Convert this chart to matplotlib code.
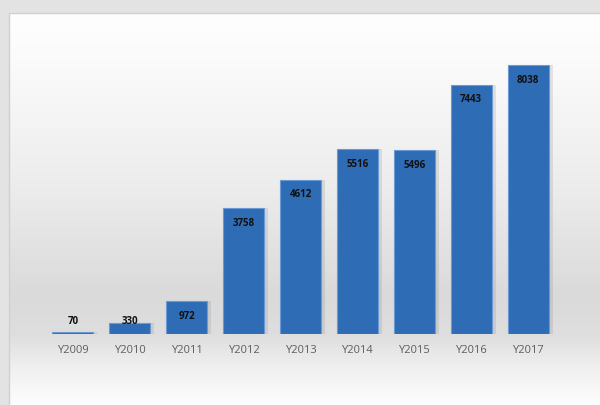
import numpy as np
import matplotlib
matplotlib.use("Agg")
import matplotlib.pyplot as plt
from matplotlib.colors import LinearSegmentedColormap

years = ["Y2009", "Y2010", "Y2011", "Y2012", "Y2013", "Y2014", "Y2015", "Y2016", "Y2017"]
counts = [70, 330, 972, 3758, 4612, 5516, 5496, 7443, 8038]

W, H = 600, 405
fig = plt.figure(figsize=(W / 100, H / 100), dpi=100)
fig.patch.set_facecolor("#e3e3e3")

# backdrop: framed panel with a soft vertical grey band behind the bars
bg = fig.add_axes([0, 0, 1, 1])
bg.set_xlim(0, W)
bg.set_ylim(H, 0)
bg.set_axis_off()
band = LinearSegmentedColormap.from_list(
    "band",
    [(0.0, "#fefefe"), (0.12, "#fbfbfb"), (0.45, "#ececec"),
     (0.72, "#dadada"), (0.82, "#dedede"), (0.92, "#f2f2f2"), (1.0, "#fdfdfd")])
grad = np.linspace(0, 1, 256).reshape(-1, 1)
bg.imshow(grad, cmap=band, aspect="auto", extent=(9, W, H, 13), zorder=1)
bg.plot([9, 9, W], [H, 13, 13], color="#d2cfcc", lw=1.0, zorder=2)

ax = fig.add_axes([44.5 / W, 71 / H, 512 / W, 284.5 / H])
ax.patch.set_alpha(0)
x = np.arange(len(years))

# drop shadow to the right of each bar
ax.bar(x + 0.07, counts, width=0.72, color="#7a7a7a", alpha=0.18, zorder=1)
ax.bar(x, counts, width=0.72, color="#2f6cb6", edgecolor="#6a9ad6",
       linewidth=0.8, zorder=2)

for xi, v in zip(x, counts):
    ax.text(xi, max(v - 450, 370), str(v), ha="center", va="center",
            fontsize=7, fontweight="bold", color="#111111",
            family="Open Sans", zorder=3)

ax.set_xlim(-0.5, len(years) - 0.5)
ax.set_ylim(0, 8500)
ax.set_xticks(x)
ax.set_xticklabels(years, fontsize=8, color="#5e5e5e", family="Open Sans")
ax.tick_params(axis="x", length=0, pad=8)
ax.set_yticks([])
for s in ax.spines.values():
    s.set_visible(False)

fig.savefig("out.png", dpi=100, facecolor=fig.get_facecolor())
